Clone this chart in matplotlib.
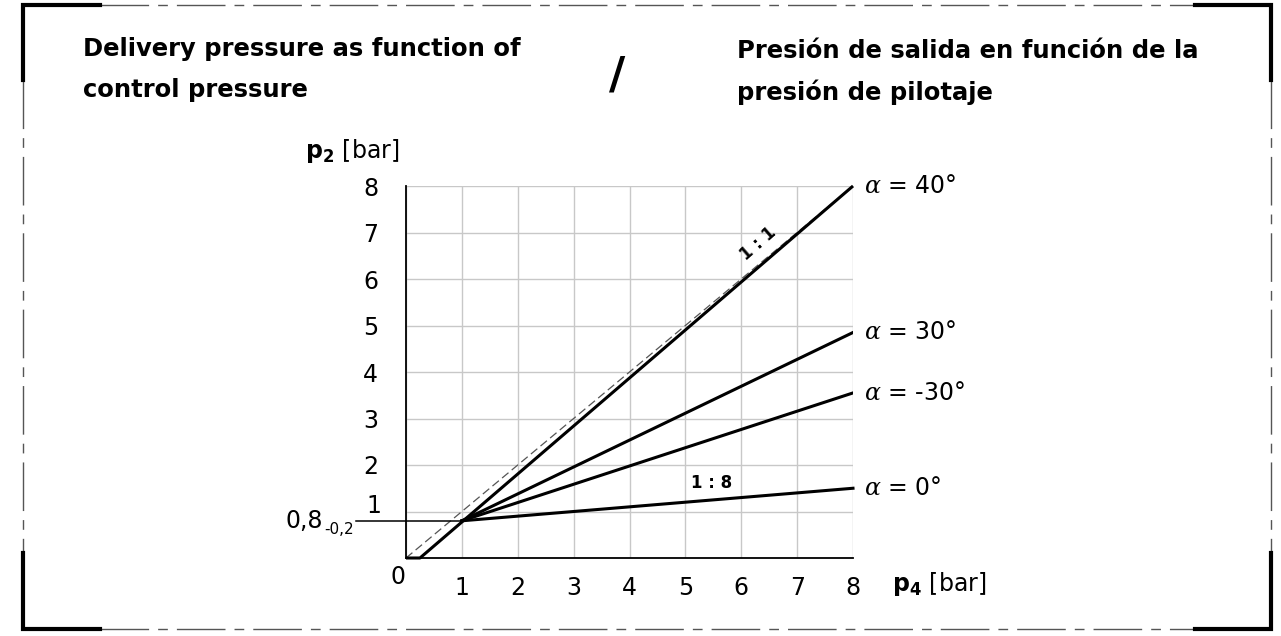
import matplotlib
matplotlib.use("Agg")
import matplotlib.pyplot as plt
from matplotlib.lines import Line2D

plt.rcParams['font.family'] = ['DejaVu Sans']
plt.rcParams['mathtext.fontset'] = 'custom'
plt.rcParams['mathtext.rm'] = 'DejaVu Sans'
plt.rcParams['mathtext.bf'] = 'DejaVu Sans:bold'
plt.rcParams['mathtext.it'] = 'DejaVu Serif:italic'
plt.rcParams['lines.scale_dashes'] = False

# data
ticks = [0, 1, 2, 3, 4, 5, 6, 7, 8]
p4_ref = [0, 8]
p2_ref = [0, 8]
p4_40 = [0, 0.25, 8]
p2_40 = [0, 0, 8]
p4_fan = [1, 8]
p2_30 = [0.8, 4.85]
p2_m30 = [0.8, 3.55]
p2_0 = [0.8, 1.5]
labels = ["$\\alpha$ = 40°", "$\\alpha$ = 30°", "$\\alpha$ = -30°", "$\\alpha$ = 0°"]
label_y = [8, 4.85, 3.55, 1.5]

W, H = 1281, 636
fig = plt.figure(figsize=(W / 100, H / 100), dpi=100)
ax = fig.add_axes([406 / W, 1 - 558 / H, (853 - 406) / W, (558 - 186) / H])

FS = 17
ax.set_xlim(0, 8)
ax.set_ylim(0, 8)
ax.set_xticks(ticks)
ax.set_yticks(ticks)
ax.grid(True, color="#c8c8c8", lw=1.0)
ax.set_axisbelow(True)
for s in ["top", "right"]:
    ax.spines[s].set_visible(False)
for s in ["left", "bottom"]:
    ax.spines[s].set_linewidth(1.3)
ax.tick_params(axis="x", length=0, labelsize=FS, pad=13)
ax.tick_params(axis="y", length=0, labelsize=FS, pad=20)
ax.set_xticklabels([""] + [str(t) for t in ticks[1:]])
ax.set_yticklabels(["", ""] + [str(t) for t in ticks[2:]])
ax.text(-0.15, -0.4, "0", fontsize=FS, ha="center", va="center")
ax.text(-0.45, 1.12, "1", fontsize=FS, ha="right", va="center")

# curves
ax.plot(p4_ref, p2_ref, color="#555555", lw=0.9, dashes=(6, 3), clip_on=False)
ax.plot(p4_40, p2_40, color="black", lw=2.2, clip_on=False, solid_capstyle="butt")
ax.plot(p4_fan, p2_30, color="black", lw=2.2)
ax.plot(p4_fan, p2_m30, color="black", lw=2.2)
ax.plot(p4_fan, p2_0, color="black", lw=2.2, clip_on=False)

# 0,8 marker line
ax.plot([-0.9, 1], [0.8, 0.8], color="black", lw=1.1, clip_on=False)
ax.text(-1.48, 0.8, "0,8", fontsize=FS, ha="right", va="center")
ax.text(-1.47, 0.62, "-0,2", fontsize=11, ha="left", va="center")

ax.text(6.3, 6.75, "1 : 1", fontsize=12, fontweight="bold", rotation=41,
        ha="center", va="center", rotation_mode="anchor")
ax.text(5.47, 1.62, "1 : 8", fontsize=12, fontweight="bold", ha="center", va="center")

for lab, y in zip(labels, label_y):
    ax.text(8.2, y, lab, fontsize=FS, ha="left", va="center")

ax.text(-1.8, 8.75, "$\\mathbf{p_2}$ [bar]", fontsize=FS, ha="left", va="center")
ax.text(8.7, -0.55, "$\\mathbf{p_4}$ [bar]", fontsize=FS, ha="left", va="center")

# titles
def fx(px):
    return px / W

def fy(py):
    return 1 - py / H

TFS = 17.5
fig.text(fx(83), fy(56), "Delivery pressure as function of", fontsize=TFS,
         fontweight="bold", ha="left", va="baseline")
fig.text(fx(83), fy(97), "control pressure", fontsize=TFS,
         fontweight="bold", ha="left", va="baseline")
fig.text(fx(617), fy(76), "/", fontsize=32, fontweight="bold", ha="center", va="center")
fig.text(fx(737), fy(58), "Presión de salida en función de la", fontsize=TFS,
         fontweight="bold", ha="left", va="baseline")
fig.text(fx(737), fy(100), "presión de pilotaje", fontsize=TFS,
         fontweight="bold", ha="left", va="baseline")

# frame
L, R, T, B = 23, 1271, 5, 629
dash = (35, 6.5, 7, 6.5)
thin = dict(color="#555555", lw=1.0, dashes=dash)
fig.add_artist(Line2D([fx(100), fx(1195)], [fy(T), fy(T)], **thin))
fig.add_artist(Line2D([fx(100), fx(1195)], [fy(B), fy(B)], **thin))
fig.add_artist(Line2D([fx(L), fx(L)], [fy(80), fy(553)], **thin))
fig.add_artist(Line2D([fx(R), fx(R)], [fy(80), fy(553)], **thin))
thick = dict(color="black", lw=3.0, solid_joinstyle="miter")
fig.add_artist(Line2D([fx(100), fx(L), fx(L)], [fy(T), fy(T), fy(80)], **thick))
fig.add_artist(Line2D([fx(1195), fx(R), fx(R)], [fy(T), fy(T), fy(80)], **thick))
fig.add_artist(Line2D([fx(L), fx(L), fx(100)], [fy(553), fy(B), fy(B)], **thick))
fig.add_artist(Line2D([fx(R), fx(R), fx(1195)], [fy(553), fy(B), fy(B)], **thick))

fig.savefig("out.png", dpi=100)
